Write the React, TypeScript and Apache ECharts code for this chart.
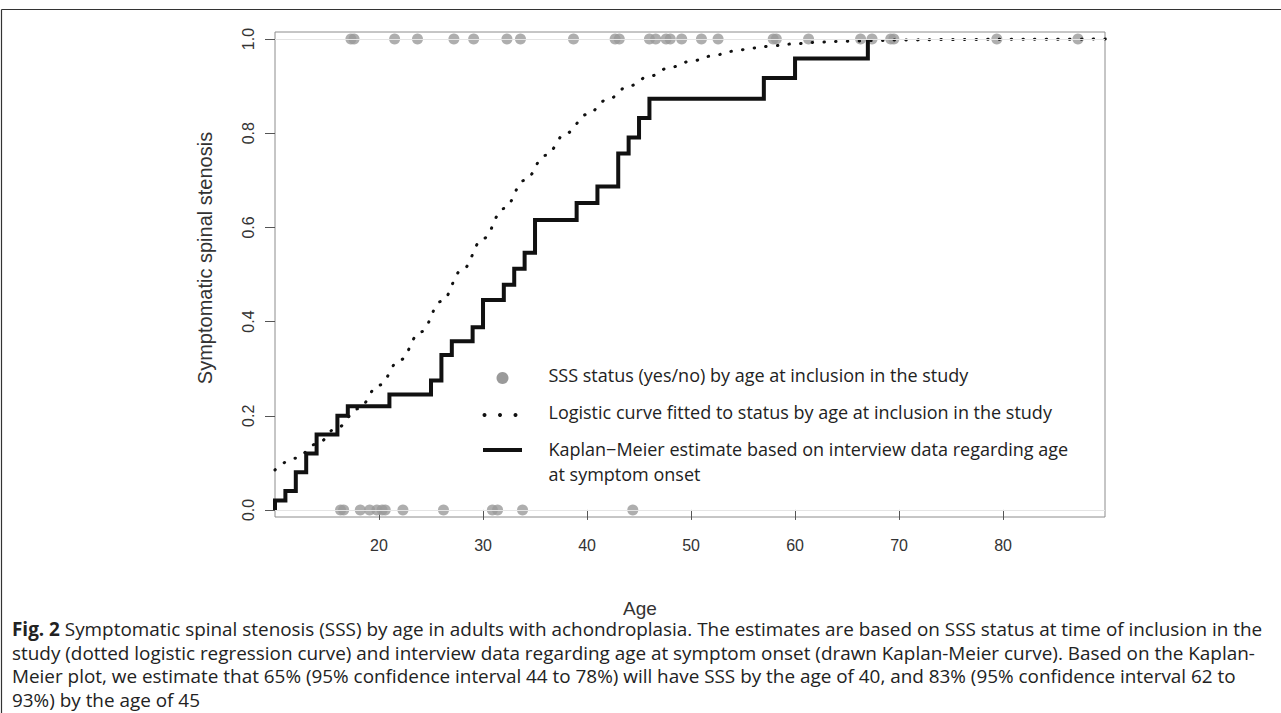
import React, { useEffect, useRef } from "react";
import * as echarts from "echarts";

// ---- data ----
const xTicks = [20, 30, 40, 50, 60, 70, 80];
const yTicks = [0, 0.2, 0.4, 0.6, 0.8, 1.0];

// Kaplan-Meier estimate (age at symptom onset, cumulative proportion after step)
const kmAges = [10, 10, 11, 12, 13, 14, 16, 17, 21, 25, 26, 27, 29, 30, 32, 33, 34, 35, 39, 41, 43, 44, 45, 46, 57, 60, 67];
const kmValues = [0, 0.02, 0.04, 0.08, 0.12, 0.16, 0.2, 0.22, 0.245, 0.275, 0.329, 0.358, 0.388, 0.446, 0.478, 0.512, 0.546, 0.616, 0.652, 0.687, 0.757, 0.791, 0.8325, 0.8735, 0.9175, 0.9585, 1.0];

// Logistic curve
const logisticAges = [10, 12, 14, 16, 18, 20, 22, 24, 26, 28, 30, 32, 34, 36, 38, 40, 42, 44, 46, 48, 50, 52, 54, 56, 58, 60, 62, 64, 66, 68, 70, 75, 80, 85, 90];
const logisticValues = [0.085, 0.11, 0.14, 0.175, 0.215, 0.265, 0.318, 0.378, 0.443, 0.51, 0.576, 0.64, 0.7, 0.753, 0.8, 0.84, 0.872, 0.9, 0.921, 0.94, 0.953, 0.964, 0.974, 0.981, 0.986, 0.99, 0.993, 0.995, 0.996, 0.997, 0.998, 0.999, 0.9995, 0.9998, 1.0];

// SSS status at inclusion
const statusYesAges = [17.3, 17.6, 21.5, 23.7, 27.2, 29.1, 32.3, 33.6, 38.7, 42.7, 43.1, 46.0, 46.6, 47.6, 48.0, 49.1, 51.0, 52.6, 57.9, 58.2, 61.3, 66.3, 67.4, 69.2, 69.5, 79.4, 87.2];
const statusNoAges = [16.3, 16.6, 18.2, 19.1, 19.8, 20.3, 20.6, 22.3, 26.2, 30.9, 31.4, 33.8, 44.4];

const legendLabels = [
  "SSS status (yes/no) by age at inclusion in the study",
  "Logistic curve fitted to status by age at inclusion in the study",
  "Kaplan\u2212Meier estimate based on interview data regarding age",
  "at symptom onset",
];

const captionLines = [
  "{b|Fig. 2} Symptomatic spinal stenosis (SSS) by age in adults with achondroplasia. The estimates are based on SSS status at time of inclusion in the",
  "study (dotted logistic regression curve) and interview data regarding age at symptom onset (drawn Kaplan-Meier curve). Based on the Kaplan-",
  "Meier plot, we estimate that 65% (95% confidence interval 44 to 78%) will have SSS by the age of 40, and 83% (95% confidence interval 62 to",
  "93%) by the age of 45",
];

const yTitle = "Symptomatic spinal stenosis";
const xTitle = "Age";

export default function App() {
  const ref = useRef<HTMLDivElement>(null);

  useEffect(() => {
    if (!ref.current) return;
    const chart = echarts.init(ref.current, null, { renderer: "svg" });

    const axisFont = "Liberation Sans, Arial, sans-serif";
    const textFont = "Open Sans, Noto Sans, sans-serif";

    const km = kmAges.map((a, i) => [a, kmValues[i]]);
    const logistic = logisticAges.map((a, i) => [a, logisticValues[i]]);
    const yes = statusYesAges.map((a) => [a, 1]);
    const no = statusNoAges.map((a) => [a, 0]);

    const graphics: any[] = [];
    // figure frame
    graphics.push({ type: "line", shape: { x1: 1.5, y1: 9.5, x2: 1281, y2: 9.5 }, style: { stroke: "#333", lineWidth: 1.2 } });
    graphics.push({ type: "line", shape: { x1: 1.5, y1: 9.5, x2: 1.5, y2: 713 }, style: { stroke: "#333", lineWidth: 1.2 } });

    // axis titles
    graphics.push({
      type: "text", x: 205, y: 258, rotation: Math.PI / 2,
      style: { text: yTitle, font: `20px ${axisFont}`, fill: "#333", align: "center", verticalAlign: "middle" },
    });
    graphics.push({
      type: "text", x: 640, y: 608,
      style: { text: xTitle, font: `19px ${axisFont}`, fill: "#333", align: "center", verticalAlign: "middle" },
    });

    // legend
    graphics.push({ type: "circle", shape: { cx: 502.5, cy: 378, r: 6 }, style: { fill: "#9a9a9a" } });
    [484.5, 500, 515.5].forEach((cx) =>
      graphics.push({ type: "circle", shape: { cx, cy: 415, r: 2 }, style: { fill: "#111" } })
    );
    graphics.push({ type: "line", shape: { x1: 483, y1: 450, x2: 522, y2: 450 }, style: { stroke: "#111", lineWidth: 4 } });
    const legendY = [375, 412, 449, 474];
    legendLabels.forEach((t, i) =>
      graphics.push({
        type: "text", x: 548.5, y: legendY[i],
        style: { text: t, font: `18px ${textFont}`, fill: "#222", align: "left", verticalAlign: "middle" },
      })
    );

    // caption
    const capY = [629, 652.5, 676, 699.5];
    captionLines.forEach((t, i) =>
      graphics.push({
        type: "text", x: 12, y: capY[i],
        style: {
          text: t, fontFamily: textFont, fontSize: 18.9, fill: "#222", align: "left", verticalAlign: "middle",
          rich: { b: { fontWeight: "bold", fontFamily: textFont, fontSize: 18.9, fill: "#222" } },
        },
      })
    );

    chart.setOption({
      animation: false,
      backgroundColor: "#ffffff",
      grid: { left: 275, right: 176, top: 32, bottom: 196, show: true, borderColor: "#8c8c8c", borderWidth: 1 },
      xAxis: {
        type: "value", min: 10, max: 89.8,
        axisLine: { show: false },
        splitLine: { show: false },
        axisTick: { show: true, length: 10, customValues: xTicks, lineStyle: { color: "#555" } },
        axisLabel: { customValues: xTicks, margin: 20, fontSize: 16, color: "#333", fontFamily: axisFont },
      },
      yAxis: {
        type: "value", min: -0.015, max: 1.015,
        axisLine: { show: false },
        splitLine: { show: false },
        axisTick: { show: true, length: 10, customValues: yTicks, lineStyle: { color: "#555" } },
        axisLabel: {
          customValues: yTicks, margin: 19, rotate: 90, fontSize: 16, color: "#333", fontFamily: axisFont,
          formatter: (v: number) => v.toFixed(1),
        },
      },
      series: [
        {
          type: "scatter", name: "status", data: [...yes, ...no], symbolSize: 11,
          itemStyle: { color: "#9a9a9a" }, z: 2,
          markLine: {
            silent: true, symbol: "none", label: { show: false },
            lineStyle: { color: "#e4e4e4", width: 1, type: "solid" },
            data: [{ yAxis: 0 }, { yAxis: 1 }],
          },
        },
        {
          type: "line", name: "logistic", data: logistic, smooth: 0.4, smoothMonotone: "x",
          showSymbol: false, symbol: "none",
          lineStyle: { color: "#111", width: 3, type: [0.5, 11.2], cap: "round" }, z: 3,
        },
        {
          type: "line", name: "km", data: km, step: "end", showSymbol: false, symbol: "none",
          lineStyle: { color: "#111", width: 4, cap: "butt", join: "miter" }, z: 4,
        },
      ],
      graphic: graphics,
    });

    return () => chart.dispose();
  }, []);

  return <div ref={ref} style={{ position: "absolute", left: 0, top: 0, width: 1281, height: 713 }} />;
}
